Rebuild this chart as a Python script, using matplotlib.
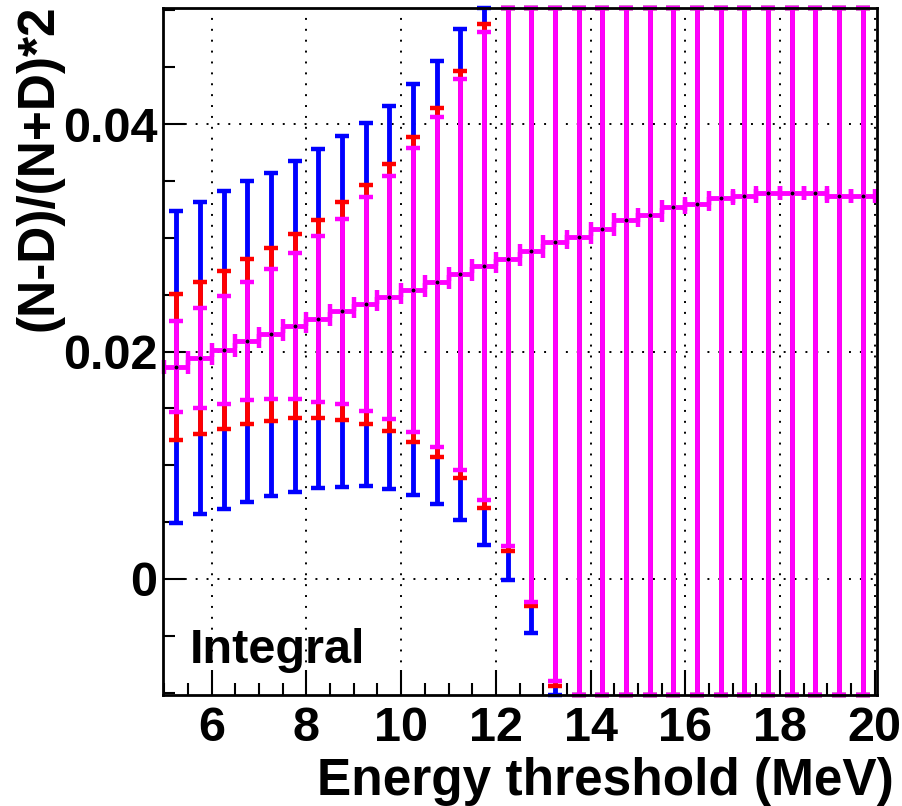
import matplotlib
matplotlib.use("Agg")
import matplotlib.pyplot as plt
import numpy as np
from matplotlib.ticker import MultipleLocator, FuncFormatter

plt.rcParams['font.family'] = ['Liberation Sans', 'DejaVu Sans']
plt.rcParams['font.weight'] = 'bold'

# bin centres of the energy threshold (MeV)
threshold = [5.25, 5.75, 6.25, 6.75, 7.25, 7.75, 8.25, 8.75, 9.25, 9.75,
             10.25, 10.75, 11.25, 11.75, 12.25, 12.75, 13.25, 13.75, 14.25, 14.75,
             15.25, 15.75, 16.25, 16.75, 17.25, 17.75, 18.25, 18.75, 19.25, 19.75]

# (N-D)/(N+D)*2 central values
asym = [0.01866, 0.01943, 0.02013, 0.02091, 0.02152, 0.02222, 0.02288, 0.02353, 0.02416, 0.02475,
        0.02543, 0.02609, 0.02677, 0.02750, 0.02813, 0.02886, 0.02959, 0.03005, 0.03077, 0.03153,
        0.03203, 0.03273, 0.03299, 0.03346, 0.03370, 0.03393, 0.03393, 0.03393, 0.03370, 0.03370]

# error sizes: magenta (smallest), red, blue (largest)
err_magenta = [0.00398, 0.00440, 0.00473, 0.00520, 0.00571, 0.00644, 0.00728, 0.00813, 0.00938, 0.01066,
               0.01248, 0.01453, 0.01721, 0.02059, 0.02523, 0.03091, 0.03853, 0.0470, 0.0570, 0.0680,
               0.0810, 0.0960, 0.1130, 0.1330, 0.1560, 0.1830, 0.2140, 0.2500, 0.2920, 0.3400]
err_red = [0.00642, 0.00666, 0.00692, 0.00725, 0.00762, 0.00810, 0.00872, 0.00958, 0.01052, 0.01172,
           0.01342, 0.01536, 0.01791, 0.02127, 0.02564, 0.03127, 0.03897, 0.0475, 0.0575, 0.0685,
           0.0815, 0.0965, 0.1135, 0.1335, 0.1565, 0.1835, 0.2145, 0.2505, 0.2925, 0.3405]
err_blue = [0.01371, 0.01370, 0.01395, 0.01411, 0.01421, 0.01455, 0.01491, 0.01541, 0.01597, 0.01682,
            0.01805, 0.01949, 0.02156, 0.02448, 0.02822, 0.03360, 0.04100, 0.0495, 0.0595, 0.0705,
            0.0835, 0.0985, 0.1155, 0.1355, 0.1585, 0.1855, 0.2165, 0.2525, 0.2945, 0.3425]

xlim = (4.97, 20.05)
ylim = (-0.0102, 0.0502)


def clipped(c, e):
    # error bars are cut at the frame, caps drawn at the frame edge
    c = np.asarray(c)
    e = np.asarray(e)
    lo = np.maximum(c - e, ylim[0])
    hi = np.minimum(c + e, ylim[1])
    return [c - lo, hi - c]


fig = plt.figure(figsize=(9.02, 8.06), dpi=100)
ax = fig.add_axes([163 / 902, 1 - 695 / 806, 714 / 902, 687 / 806])

bar_style = dict(elinewidth=3.5, capsize=5, capthick=3.2, clip_on=False)
ax.errorbar(threshold, asym, yerr=clipped(asym, err_blue), fmt='none', ecolor='#0000ff', **bar_style)
ax.errorbar(threshold, asym, yerr=clipped(asym, err_red), fmt='none', ecolor='#ff0000', **bar_style)
ax.errorbar(threshold, asym, yerr=clipped(asym, err_magenta), xerr=0.25, fmt='o', color='black',
            markersize=1.8, ecolor='#ff00ff', **bar_style)

ax.set_xlim(*xlim)
ax.set_ylim(*ylim)

ax.xaxis.set_major_locator(MultipleLocator(2))
ax.xaxis.set_minor_locator(MultipleLocator(0.5))
ax.yaxis.set_major_locator(MultipleLocator(0.02))
ax.yaxis.set_minor_locator(MultipleLocator(0.005))
ax.yaxis.set_major_formatter(FuncFormatter(lambda v, p: '%g' % round(v, 4)))

ax.tick_params(which='both', direction='in', width=1.5, labelsize=35)
ax.tick_params(axis='x', which='major', length=18, pad=8)
ax.tick_params(axis='y', which='major', length=16, pad=4)
ax.tick_params(which='minor', length=8.5)
for s in ax.spines.values():
    s.set_linewidth(2)

ax.set_axisbelow(True)
ax.grid(which='major', color='black', linestyle=(0, (1, 4.6)), linewidth=1.4)

ax.set_xlabel('Energy threshold (MeV)', fontsize=37, fontweight='bold', loc='right')
ax.xaxis.set_label_coords(1.024, -0.09)
ax.set_ylabel('(N-D)/(N+D)*2', fontsize=37, fontweight='bold', loc='top')
ax.yaxis.set_label_coords(-0.14, 1.005)

ax.text(0.038, 0.0466, 'Integral', transform=ax.transAxes, fontsize=35,
        fontweight='bold', va='baseline', ha='left')

fig.savefig('out.png', dpi=100)
